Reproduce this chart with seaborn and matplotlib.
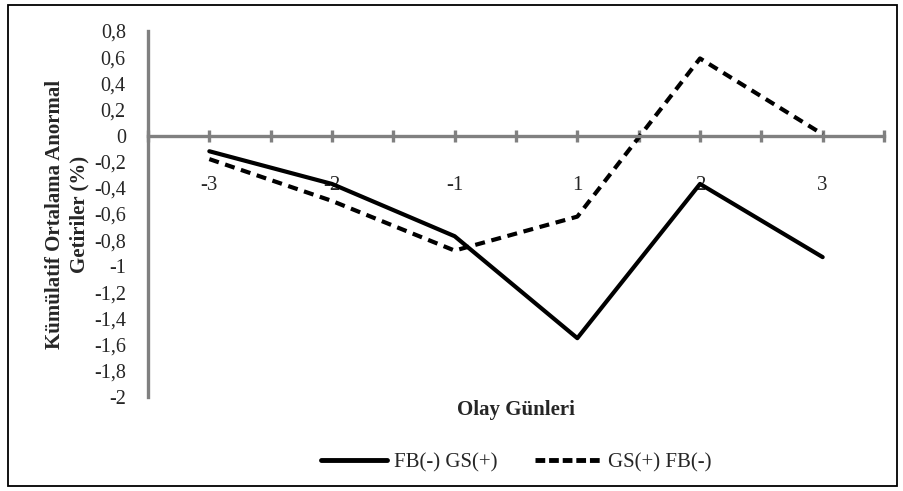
import matplotlib
matplotlib.use("Agg")
import matplotlib.pyplot as plt
import seaborn as sns
import pandas as pd
import numpy as np
from matplotlib.lines import Line2D
from matplotlib.patches import Rectangle

days = ["-3", "-2", "-1", "1", "2", "3"]
series_a_name = "FB(-) GS(+)"
series_b_name = "GS(+) FB(-)"
series_a = [-0.12, -0.37, -0.77, -1.55, -0.37, -0.93]
series_b = [-0.18, -0.50, -0.88, -0.62, 0.59, 0.01]
y_ticks = [0.8, 0.6, 0.4, 0.2, 0, -0.2, -0.4, -0.6, -0.8, -1, -1.2, -1.4, -1.6, -1.8, -2]
y_label = "Kümülatif Ortalama Anormal\nGetiriler (%)"
x_label = "Olay Günleri"

sns.set_theme(style="white")
plt.rcParams['font.family'] = ['Liberation Serif', 'DejaVu Serif']

df = pd.DataFrame({
    "pos": list(range(len(days))) * 2,
    "val": series_a + series_b,
    "series": [series_a_name] * len(days) + [series_b_name] * len(days),
})

fig = plt.figure(figsize=(9.04, 4.91), dpi=100)
ax = fig.add_axes([148/904, 1-397/491, (884-148)/904, (397-31)/491])

sns.lineplot(data=df, x="pos", y="val", hue="series", style="series",
             palette={series_a_name: "black", series_b_name: "black"},
             dashes={series_a_name: "", series_b_name: (2.4, 1.6)},
             linewidth=3, ax=ax, legend=False)

ax.set_xlim(-0.5, 5.5)
ax.set_ylim(-2, 0.8)

gray = "#808080"
for s in ["top", "right"]:
    ax.spines[s].set_visible(False)
ax.spines["left"].set_color(gray)
ax.spines["left"].set_linewidth(2.4)
ax.spines["bottom"].set_color(gray)
ax.spines["bottom"].set_linewidth(2.4)
ax.spines["bottom"].set_position(("data", 0))

ax.set_yticks(y_ticks)
ax.set_yticklabels([f"{v:g}".replace(".", ",") for v in y_ticks], fontsize=14.5)
ax.tick_params(axis="y", left=False, length=0, pad=16)

ax.set_xticks(range(len(days)))
ax.set_xticklabels(days, fontsize=15)
ax.set_xticks(np.arange(-0.5, 5.51, 0.5), minor=True)
ax.tick_params(axis="x", which="both", bottom=True, direction="inout", length=8,
               width=2.4, color=gray, pad=25)

ax.set_xlabel("")
ax.set_ylabel("")
fig.text(516/904, 1-410/491, x_label, ha="center", va="center",
         fontsize=15, fontweight="bold")
fig.text(67/904, 1-214/491, y_label, ha="center", va="center", rotation=90,
         fontsize=15, fontweight="bold", linespacing=1.3, multialignment="center")

handles = [
    Line2D([0], [0], color="black", lw=3.5),
    Line2D([0], [0], color="black", lw=3.5, linestyle=(0, (2.0, 0.8))),
]
fig.legend(handles, [series_a_name, series_b_name], loc="center",
           bbox_to_anchor=(516/904, 1-463/491), ncol=2, frameon=False,
           fontsize=15, handlelength=3.2, handletextpad=0.3, columnspacing=1.8)

fig.patches.append(Rectangle((8/904, 1-486/491), (897-8)/904, (486-5)/491,
                             transform=fig.transFigure, fill=False,
                             edgecolor="black", linewidth=1.3))

fig.savefig("out.png", dpi=100)
